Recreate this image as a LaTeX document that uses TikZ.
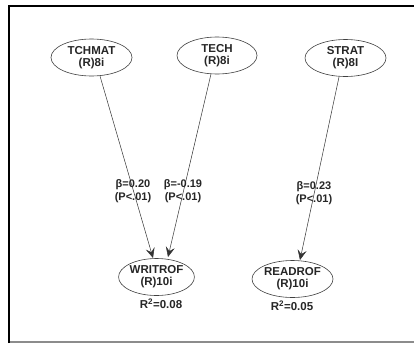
\documentclass[tikz,border=0pt]{standalone}
\usepackage{fontspec}
\setmainfont{Liberation Sans}
\usetikzlibrary{arrows.meta,shapes.geometric}
\begin{document}
\begin{tikzpicture}[x=1pt,y=-1pt,
  latent/.style={draw=black!75,line width=0.6pt,ellipse,minimum width=#1,minimum height=37pt,inner sep=0pt,
    font=\fontsize{11.5}{12}\selectfont\bfseries,align=center,text=black!85},
  latent/.default=81pt,
  path/.style={draw=black!80,line width=0.5pt,-{Stealth[length=10pt,width=9pt,inset=4pt]}},
  coef/.style={font=\fontsize{11}{13}\selectfont\bfseries,align=center,text=black!85,inner sep=0pt},
  rsq/.style={font=\fontsize{11.5}{12}\selectfont\bfseries,text=black!85,inner sep=0pt}]
\useasboundingbox (0,0) rectangle (414,343);
\fill[white] (0,0) rectangle (414,343);
% frame
\coordinate (fa) at (9,343);
\coordinate (fb) at (9,6);
\coordinate (fc) at (414,6);
\draw[line width=2.2pt,black] (fa) -- (fb) -- (fc);
\coordinate (fd) at (10,342);
\coordinate (fe) at (414,342);
\draw[line width=1.2pt,black!45] (fd) -- (fe);
% nodes
\node[latent] (tchmat) at (91.5,57.5) {TCHMAT\\(R)8i};
\node[latent=80pt] (tech) at (217,55.5) {TECH\\(R)8i};
\node[latent] (strat) at (345.5,58) {STRAT\\(R)8I};
\node[latent=71pt] (writ) at (156.5,277) {WRITROF\\(R)10i};
\node[latent] (read) at (292.5,279) {READROF\\(R)10i};
% arrows
\coordinate (t1) at (100,76);
\coordinate (w1) at (153,258);
\coordinate (t2) at (211,74);
\coordinate (w2) at (168,257);
\coordinate (s1) at (339,77);
\coordinate (r1) at (300,260);
\draw[path] (t1) -- (w1);
\draw[path] (t2) -- (w2);
\draw[path] (s1) -- (r1);
% coefficients
\node[coef] (c1) at (133,191.5) {β=0.20\\(P<.01)};
\node[coef] (c2) at (183,191.5) {β=-0.19\\(P<.01)};
\node[coef] (c3) at (314,193.5) {β=0.23\\(P<.01)};
% R2
\node[rsq] (r2a) at (161,304) {R\textsuperscript{2}=0.08};
\node[rsq] (r2b) at (292,306) {R\textsuperscript{2}=0.05};
\end{tikzpicture}
\end{document}
